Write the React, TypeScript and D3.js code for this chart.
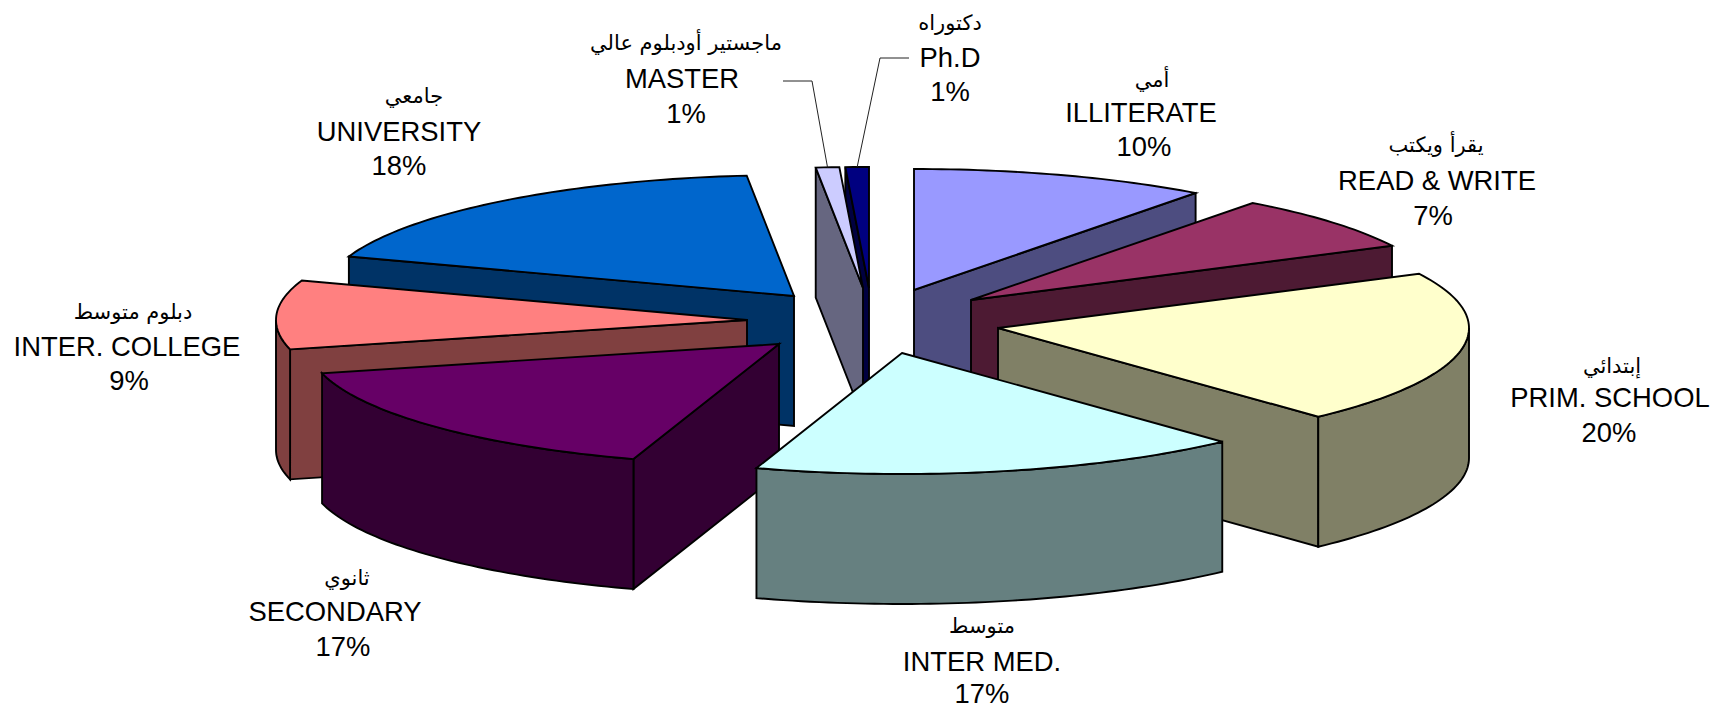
import React from "react";
import * as d3 from "d3";

// ---- data ----
const englishNames = ["ILLITERATE", "READ & WRITE", "PRIM. SCHOOL", "INTER MED.", "SECONDARY", "INTER. COLLEGE", "UNIVERSITY", "MASTER", "Ph.D"];
const arabicNames = ["أمي", "يقرأ ويكتب", "إبتدائي", "متوسط", "ثانوي", "دبلوم متوسط", "جامعي", "ماجستير أودبلوم عالي", "دكتوراه"];
const percentLabels = ["10%", "7%", "20%", "17%", "17%", "9%", "18%", "1%", "1%"];
// angular share of each wedge as drawn
const sliceShares = [10.2, 7.4, 20.5, 16.9, 16.1, 9.2, 18.1, 0.8, 0.8];

// ---- styling ----
const topColors = ["#9999FF", "#993366", "#FFFFCC", "#CCFFFF", "#660066", "#FF8080", "#0066CC", "#CCCCFF", "#000080"];
const sideColors = ["#4D4D80", "#4D1A33", "#808066", "#668080", "#330033", "#804040", "#003366", "#666680", "#000040"];

// ---- layout ----
const W = 1713, H = 709;
const RX = 471, RY = 121, DEPTH = 130;
const hubX = [914, 971, 998, 902, 779, 747, 794, 863, 869];
const hubY = [290, 300, 328, 353, 344, 320, 296, 288, 288];
const paintOrder = [8, 7, 0, 1, 2, 6, 5, 4, 3];
const labelX = [1141, 1437, 1610, 982, 335, 127, 399, 682, 950];
const pctX = [1144, 1433, 1609, 982, 343, 129, 399, 686, 950];
const arabicX = [1152, 1436, 1612, 982, 347, 133, 414, 686, 950];
const arabicY = [87, 152, 373, 633, 585, 319, 103, 50, 30];
const nameY = [122, 190, 407, 671, 621, 356, 141, 88, 67];
const pctY = [156, 225, 442, 703, 656, 390, 175, 123, 101];
const leaderSlices = [7, 8];
const leaderElbowX = [812, 880];
const leaderElbowY = [81, 58];
const leaderEndX = [783, 909];

const SANS = "'Liberation Sans', Arial, sans-serif";
const ARABIC = "'DejaVu Sans', sans-serif";

const pie = d3.pie<number>().sort(null).value((d) => d);
const arcs = pie(sliceShares);
const line = d3.line();

const at = (i: number, a: number, dy = 0): [number, number] => [
  hubX[i] + RX * Math.sin(a),
  hubY[i] - RY * Math.cos(a) + dy,
];
const arcPoints = (i: number, a0: number, a1: number, dy = 0): [number, number][] => {
  const n = Math.max(2, Math.ceil(Math.abs(a1 - a0) / 0.02));
  return d3.range(n + 1).map((k) => at(i, a0 + ((a1 - a0) * k) / n, dy));
};
const closed = (pts: [number, number][]) => line(pts) + "Z";

function Slice({ i }: { i: number }) {
  const { startAngle: a0, endAngle: a1 } = arcs[i];
  const hub: [number, number] = [hubX[i], hubY[i]];
  const hubLow: [number, number] = [hubX[i], hubY[i] + DEPTH];
  const faces: string[] = [];
  if (a0 > Math.PI) faces.push(closed([hub, at(i, a0), at(i, a0, DEPTH), hubLow]));
  if (a1 < Math.PI) faces.push(closed([hub, at(i, a1), at(i, a1, DEPTH), hubLow]));
  const w0 = Math.max(a0, Math.PI / 2);
  const w1 = Math.min(a1, (3 * Math.PI) / 2);
  if (w1 > w0) {
    faces.push(closed([...arcPoints(i, w0, w1), ...arcPoints(i, w1, w0, DEPTH)]));
  }
  return (
    <g stroke="#000" strokeWidth={1.9} strokeLinejoin="miter">
      {faces.map((d, k) => (
        <path key={k} d={d} fill={sideColors[i]} />
      ))}
      <path d={closed([hub, ...arcPoints(i, a0, a1)])} fill={topColors[i]} />
    </g>
  );
}

export default function App() {
  return (
    <svg
      width={W}
      height={H}
      viewBox={`0 0 ${W} ${H}`}
      style={{ position: "absolute", left: 0, top: 0, display: "block", background: "#fff" }}
    >
      {paintOrder.map((i) => (
        <Slice key={i} i={i} />
      ))}
      {leaderSlices.map((s, k) => {
        const mid = (arcs[s].startAngle + arcs[s].endAngle) / 2;
        return (
          <path
            key={s}
            d={line([[leaderEndX[k], leaderElbowY[k]], [leaderElbowX[k], leaderElbowY[k]], at(s, mid)]) as string}
            fill="none"
            stroke="#222"
            strokeWidth={1}
          />
        );
      })}
      {englishNames.map((name, i) => (
        <g key={name} textAnchor="middle" fill="#000">
          <text x={arabicX[i]} y={arabicY[i]} fontFamily={ARABIC} fontSize={21} direction="rtl" style={{ unicodeBidi: "plaintext" }} textAnchor="middle">
            {arabicNames[i]}
          </text>
          <text x={labelX[i]} y={nameY[i]} fontFamily={SANS} fontSize={27.4}>
            {name}
          </text>
          <text x={pctX[i]} y={pctY[i]} fontFamily={SANS} fontSize={27.4}>
            {percentLabels[i]}
          </text>
        </g>
      ))}
    </svg>
  );
}
